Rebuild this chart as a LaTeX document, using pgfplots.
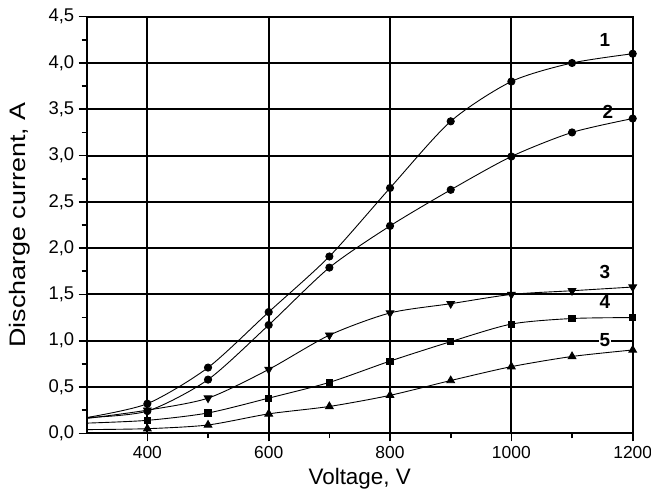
\documentclass[border=0pt]{standalone}
\usepackage{pgfplots}
\pgfplotsset{compat=1.18}
\usepackage{fontspec}
\setmainfont{Liberation Sans}
\begin{document}
\begin{tikzpicture}
\begin{axis}[
  name=ax,
  scale only axis,
  width=546bp, height=416.6bp,
  xmin=300, xmax=1200, ymin=0, ymax=4.5,
  xtick={400,600,800,1000,1200},
  minor xtick={500,700,900,1100},
  ytick={0,0.5,...,4.5},
  minor ytick={0.25,0.75,...,4.25},
  grid=major,
  major grid style={black, line width=2bp},
  axis line style={black, line width=2bp},
  tick style={black, line width=1.6bp},
  tick align=outside,
  major tick length=8bp,
  minor tick length=5bp,
  xtick pos=bottom, ytick pos=left,
  xticklabel style={font=\fontsize{17.5}{20}\selectfont, yshift=-1bp},
  yticklabel style={font=\fontsize{18.5}{20}\selectfont, xshift=-1bp},
  /pgf/number format/assume math mode=true,
  yticklabel style={/pgf/number format/.cd, fixed, fixed zerofill, precision=1, use comma},
  xticklabel style={/pgf/number format/.cd, fixed, 1000 sep={}},
  xlabel={Voltage, V},
  ylabel={\scalebox{1.2}[1]{Discharge current, A}},
  label style={font=\fontsize{22.5}{26}\selectfont},
  xlabel style={yshift=-3bp},
  ylabel style={yshift=12bp},
  every axis plot/.append style={black, line width=0.9pt, smooth, tension=0.45},
]
\addplot[mark=*, mark size=3.6bp, mark indices={2,...,10}] coordinates {
 (300,0.17) (400,0.32) (500,0.71) (600,1.31) (700,1.91) (800,2.65) (900,3.37) (1000,3.80) (1100,4.00) (1200,4.10)};
\addplot[mark=*, mark size=3.6bp, mark indices={2,...,10}] coordinates {
 (300,0.17) (400,0.24) (500,0.58) (600,1.17) (700,1.79) (800,2.24) (900,2.63) (1000,2.99) (1100,3.25) (1200,3.40)};
\addplot[mark=triangle*, mark options={rotate=180}, mark size=4.4bp, mark indices={2,...,10}] coordinates {
 (300,0.16) (400,0.25) (500,0.38) (600,0.69) (700,1.06) (800,1.30) (900,1.40) (1000,1.50) (1100,1.54) (1200,1.58)};
\addplot[mark=square*, mark size=3.1bp, mark indices={2,...,10}] coordinates {
 (300,0.11) (400,0.14) (500,0.22) (600,0.38) (700,0.55) (800,0.78) (900,0.99) (1000,1.18) (1100,1.24) (1200,1.25)};
\addplot[mark=triangle*, mark size=4.4bp, mark indices={2,...,10}] coordinates {
 (300,0.04) (400,0.05) (500,0.09) (600,0.21) (700,0.29) (800,0.41) (900,0.57) (1000,0.72) (1100,0.83) (1200,0.90)};
\draw[black, line width=2.8bp] (rel axis cs:0,0) -- (rel axis cs:0,1);
\end{axis}
\begin{scope}[every node/.style={font=\fontsize{19}{22}\selectfont\bfseries, fill=white, inner sep=1bp}]
\node at ([xshift=-27.7bp, yshift=-23.3bp]ax.north east) {1};
\node[fill=none] at ([xshift=-24.7bp, yshift=-95.3bp]ax.north east) {2};
\node at ([xshift=-27.7bp, yshift=161.3bp]ax.south east) {3};
\node[fill=none] at ([xshift=-27.7bp, yshift=131.3bp]ax.south east) {4};
\node at ([xshift=-27.7bp, yshift=93.3bp]ax.south east) {5};
\end{scope}
\pgfresetboundingbox
\path[use as bounding box] ([xshift=-86.7bp, yshift=-58.7bp]ax.south west) rectangle ([xshift=18.3bp, yshift=16.7bp]ax.north east);
\end{tikzpicture}
\end{document}
